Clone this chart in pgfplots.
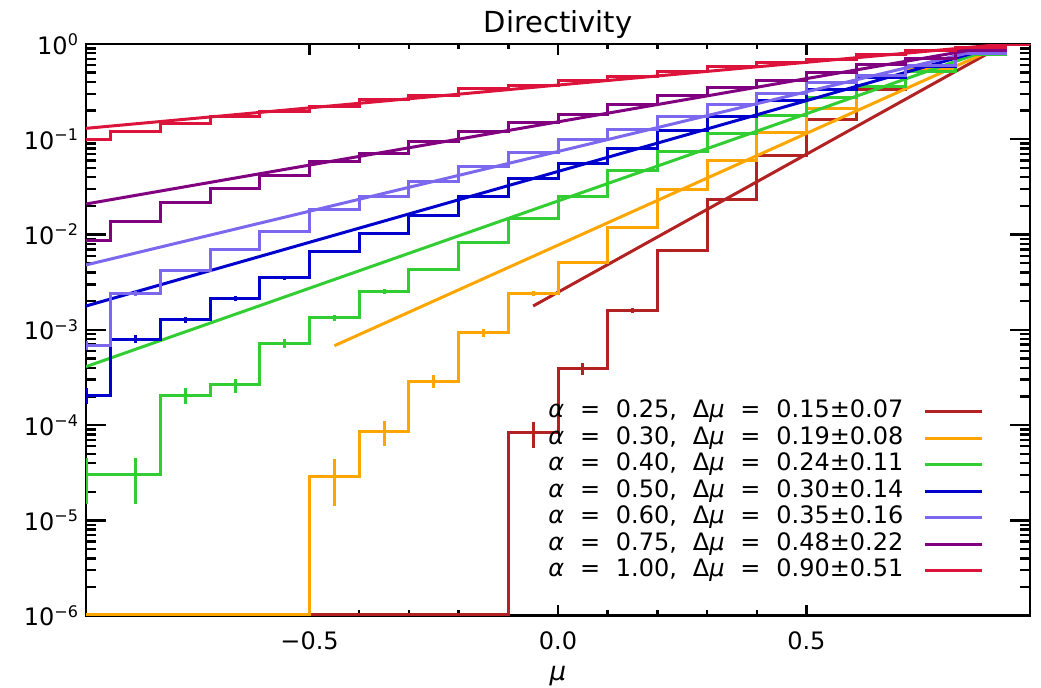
\documentclass[border=0pt]{standalone}
\usepackage{fontspec}
\setmainfont{DejaVu Sans}
\usepackage{pgfplots}
\usepackage{pgfplotstable}
\pgfplotsset{compat=1.18}

\definecolor{cRed}{RGB}{178,34,34}
\definecolor{cOrange}{RGB}{255,165,0}
\definecolor{cGreen}{RGB}{50,205,50}
\definecolor{cBlue}{RGB}{0,0,205}
\definecolor{cSlate}{RGB}{123,104,238}
\definecolor{cPurple}{RGB}{128,0,128}
\definecolor{cCrimson}{RGB}{220,20,60}

% histograms: bin centre, normalised counts, error
\pgfplotstableread{
x y e
-0.95 1.03e-6 0
-0.85 1.03e-6 0
-0.75 1.03e-6 0
-0.65 1.03e-6 0
-0.55 1.03e-6 0
-0.45 1.03e-6 0
-0.35 1.03e-6 0
-0.25 1.03e-6 0
-0.15 1.03e-6 0
-0.05 8.3e-5 2.49e-5
0.05 3.9e-4 5.41e-5
0.15 1.6e-3 1.10e-4
0.25 6.8e-3 2.26e-4
0.35 0.0235 4.20e-4
0.45 0.0668 7.08e-4
0.55 0.160 1.10e-3
0.65 0.330 1.57e-3
0.75 0.556 2.04e-3
0.85 0.785 2.43e-3
0.95 1.000 2.74e-3
}\tabA

\pgfplotstableread{
x y e
-0.95 1.03e-6 0
-0.85 1.03e-6 0
-0.75 1.03e-6 0
-0.65 1.03e-6 0
-0.55 1.03e-6 0
-0.45 2.9e-5 1.47e-5
-0.35 8.5e-5 2.52e-5
-0.25 2.9e-4 4.66e-5
-0.15 9.3e-4 8.35e-5
-0.05 2.4e-3 1.34e-4
0.05 5.1e-3 1.96e-4
0.15 0.012 3.00e-4
0.25 0.0294 4.70e-4
0.35 0.060 6.71e-4
0.45 0.117 9.37e-4
0.55 0.213 1.26e-3
0.65 0.356 1.63e-3
0.75 0.556 2.04e-3
0.85 0.785 2.43e-3
0.95 1.000 2.74e-3
}\tabB

\pgfplotstableread{
x y e
-0.95 3.0e-5 1.50e-5
-0.85 3.0e-5 1.50e-5
-0.75 2.04e-4 3.91e-5
-0.65 2.64e-4 4.45e-5
-0.55 7.2e-4 7.35e-5
-0.45 1.34e-3 1.00e-4
-0.35 2.52e-3 1.37e-4
-0.25 4.3e-3 1.80e-4
-0.15 8.2e-3 2.48e-4
-0.05 0.0148 3.33e-4
0.05 0.025 4.33e-4
0.15 0.0467 5.92e-4
0.25 0.074 7.45e-4
0.35 0.115 9.29e-4
0.45 0.177 1.15e-3
0.55 0.277 1.44e-3
0.65 0.356 1.63e-3
0.75 0.510 1.96e-3
0.85 0.770 2.40e-3
0.95 1.000 2.74e-3
}\tabC

\pgfplotstableread{
x y e
-0.95 2.04e-4 3.91e-5
-0.85 8.0e-4 7.75e-5
-0.75 1.27e-3 9.76e-5
-0.65 2.14e-3 1.27e-4
-0.55 3.53e-3 1.63e-4
-0.45 6.6e-3 2.22e-4
-0.35 0.0103 2.78e-4
-0.25 0.016 3.46e-4
-0.15 0.025 4.33e-4
-0.05 0.0389 5.40e-4
0.05 0.056 6.48e-4
0.15 0.080 7.75e-4
0.25 0.124 9.64e-4
0.35 0.174 1.14e-3
0.45 0.255 1.38e-3
0.55 0.330 1.57e-3
0.65 0.440 1.82e-3
0.75 0.580 2.09e-3
0.85 0.810 2.46e-3
0.95 1.000 2.74e-3
}\tabD

\pgfplotstableread{
x y e
-0.95 6.9e-4 7.19e-5
-0.85 2.42e-3 1.35e-4
-0.75 4.18e-3 1.77e-4
-0.65 7.0e-3 2.29e-4
-0.55 0.0109 2.86e-4
-0.45 0.0185 3.72e-4
-0.35 0.025 4.33e-4
-0.25 0.0365 5.23e-4
-0.15 0.0516 6.22e-4
-0.05 0.073 7.40e-4
0.05 0.100 8.66e-4
0.15 0.128 9.80e-4
0.25 0.175 1.15e-3
0.35 0.234 1.32e-3
0.45 0.304 1.51e-3
0.55 0.390 1.71e-3
0.65 0.470 1.88e-3
0.75 0.600 2.12e-3
0.85 0.800 2.45e-3
0.95 1.000 2.74e-3
}\tabE

\pgfplotstableread{
x y e
-0.95 8.65e-3 2.55e-4
-0.85 0.0136 3.19e-4
-0.75 0.0218 4.04e-4
-0.65 0.0301 4.75e-4
-0.55 0.0415 5.58e-4
-0.45 0.058 6.60e-4
-0.35 0.0713 7.31e-4
-0.25 0.0944 8.41e-4
-0.15 0.120 9.49e-4
-0.05 0.149 1.06e-3
0.05 0.184 1.17e-3
0.15 0.234 1.32e-3
0.25 0.285 1.46e-3
0.35 0.351 1.62e-3
0.45 0.415 1.76e-3
0.55 0.505 1.95e-3
0.65 0.610 2.14e-3
0.75 0.710 2.31e-3
0.85 0.850 2.52e-3
0.95 1.000 2.74e-3
}\tabF

\pgfplotstableread{
x y e
-0.95 0.100 8.66e-4
-0.85 0.120 9.49e-4
-0.75 0.147 1.05e-3
-0.65 0.173 1.14e-3
-0.55 0.198 1.22e-3
-0.45 0.223 1.29e-3
-0.35 0.263 1.40e-3
-0.25 0.287 1.47e-3
-0.15 0.343 1.60e-3
-0.05 0.371 1.67e-3
0.05 0.419 1.77e-3
0.15 0.460 1.86e-3
0.25 0.520 1.97e-3
0.35 0.578 2.08e-3
0.45 0.637 2.19e-3
0.55 0.680 2.26e-3
0.65 0.770 2.40e-3
0.75 0.845 2.52e-3
0.85 0.920 2.63e-3
0.95 1.000 2.74e-3
}\tabG

\newcommand{\histo}[2]{%
  \addplot[const plot mark mid, #1, line width=1.5pt, forget plot,
    error bars/.cd, y dir=both, y explicit, error mark=none,
    error bar style={line width=1.5pt}]
    table[x=x, y=y, y error=e] {#2};}
\newcommand{\gap}{\hspace{0.66em}}

\begin{document}
\begin{tikzpicture}
\begin{axis}[
    scale only axis,
    width=472pt, height=285.85pt,
    xmin=-0.95, xmax=0.95,
    ymode=log, ymin=1e-6, ymax=1,
    xtick={-0.5,0,0.5},
    xticklabels={−0.5,0.0,0.5},
    minor x tick num=4,
    ytick={1e-6,1e-5,1e-4,1e-3,1e-2,1e-1,1},
    yticklabels={10\textsuperscript{−6},10\textsuperscript{−5},10\textsuperscript{−4},10\textsuperscript{−3},10\textsuperscript{−2},10\textsuperscript{−1},10\textsuperscript{0}},
    axis line style={line width=1.35pt},
    every tick/.style={black, line width=1.2pt},
    major tick length=10pt, minor tick length=5pt,
    xtick style={/pgfplots/major tick length=5.5pt, /pgfplots/minor tick length=2.7pt},
    tick label style={font=\fontsize{12}{14}\selectfont},
    xticklabel style={yshift=-4.5pt},
    title={Directivity},
    title style={font=\fontsize{14.5}{17}\selectfont, at={(axis description cs:0.5,1)}, anchor=base},
    xlabel={\textit{μ}},
    xlabel style={font=\fontsize{13}{15}\selectfont, at={(axis description cs:0.5,0)}, anchor=base, yshift=-32.5pt},
    legend plot pos=right,
    legend cell align=left,
    legend image code/.code={\draw[#1] (0pt,0pt) -- (28.5pt,0pt);},
    legend style={at={(rel axis cs:0.951,0.057)}, anchor=south east,
      draw=none, fill=none, inner sep=0pt, font=\fontsize{12}{14}\selectfont,
      row sep=1.25pt, column sep=10pt,
      nodes={inner sep=0pt, text height=9pt, text depth=3pt}},
]
\histo{cRed}{\tabA}
\addplot[cRed, line width=1.5pt] coordinates {(-0.05,1.78e-3) (0.95,1.40)};
\addlegendentry{\textit{α}\gap=\gap0.25,\gap Δ\textit{μ}\gap=\gap0.15±0.07}
\histo{cOrange}{\tabB}
\addplot[cOrange, line width=1.5pt] coordinates {(-0.45,6.82e-4) (0.95,1.31)};
\addlegendentry{\textit{α}\gap=\gap0.30,\gap Δ\textit{μ}\gap=\gap0.19±0.08}
\histo{cGreen}{\tabC}
\addplot[cGreen, line width=1.5pt] coordinates {(-0.95,4.11e-4) (0.95,1.235)};
\addlegendentry{\textit{α}\gap=\gap0.40,\gap Δ\textit{μ}\gap=\gap0.24±0.11}
\histo{cBlue}{\tabD}
\addplot[cBlue, line width=1.5pt] coordinates {(-0.95,1.78e-3) (0.95,1.187)};
\addlegendentry{\textit{α}\gap=\gap0.50,\gap Δ\textit{μ}\gap=\gap0.30±0.14}
\histo{cSlate}{\tabE}
\addplot[cSlate, line width=1.5pt] coordinates {(-0.95,4.80e-3) (0.95,1.155)};
\addlegendentry{\textit{α}\gap=\gap0.60,\gap Δ\textit{μ}\gap=\gap0.35±0.16}
\histo{cPurple}{\tabF}
\addplot[cPurple, line width=1.5pt] coordinates {(-0.95,0.02094) (0.95,1.11)};
\addlegendentry{\textit{α}\gap=\gap0.75,\gap Δ\textit{μ}\gap=\gap0.48±0.22}
\histo{cCrimson}{\tabG}
\addplot[cCrimson, line width=1.5pt] coordinates {(-0.95,0.1303) (0.95,1.055)};
\addlegendentry{\textit{α}\gap=\gap1.00,\gap Δ\textit{μ}\gap=\gap0.90±0.51}
\end{axis}
\pgfresetboundingbox
\path ([shift={(-43pt,-35.65pt)}]current axis.south west)
  rectangle ([shift={(5.5pt,22pt)}]current axis.north east);
\end{tikzpicture}
\end{document}
